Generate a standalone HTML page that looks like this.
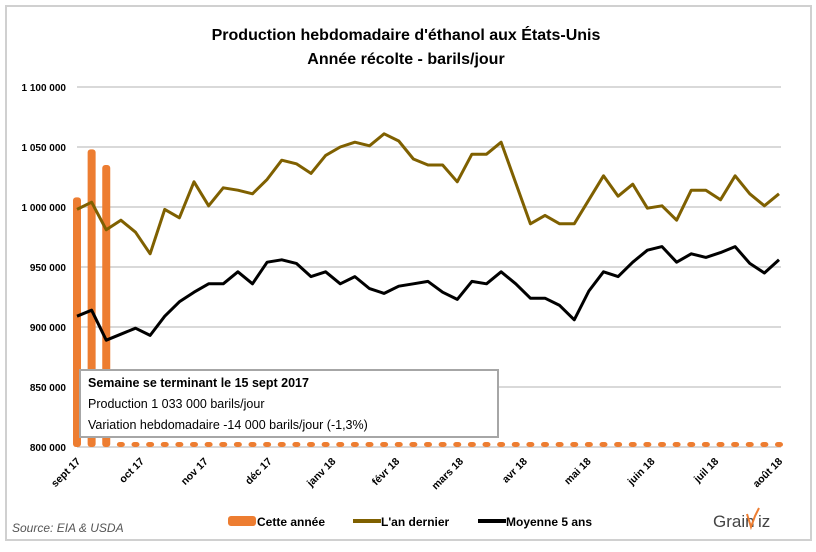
<!DOCTYPE html>
<html><head><meta charset="utf-8"><style>
body{margin:0;background:#fff;}
svg{display:block;font-family:"Liberation Sans",sans-serif;}
</style></head><body>
<svg id="c" width="816" height="552" viewBox="0 0 816 552">
<rect x="6" y="6" width="805" height="534" fill="#fff" stroke="#d0d0d0" stroke-width="2"/>
<text x="406" y="40" text-anchor="middle" font-size="16" font-weight="bold">Production hebdomadaire d'éthanol aux États-Unis</text>
<text x="406" y="64" text-anchor="middle" font-size="16" font-weight="bold">Année récolte - barils/jour</text>
<g id="grid"></g><g id="bars"></g><g id="lines"></g><g id="xlab"></g>
<g>
<rect x="80" y="370" width="418" height="67" fill="#fff" stroke="#a6a6a6" stroke-width="2"/>
<text x="88" y="387" font-size="12.5" font-weight="bold">Semaine se terminant le 15 sept 2017</text>
<text x="88" y="408" font-size="12.5">Production 1 033 000 barils/jour</text>
<text x="88" y="429" font-size="12.5">Variation hebdomadaire -14 000 barils/jour (-1,3%)</text>
</g>
<g>
<rect x="228" y="516" width="28" height="10" rx="3" fill="#ed7d31"/>
<text x="257" y="526" font-size="12" font-weight="bold">Cette année</text>
<rect x="353" y="519" width="28" height="4" fill="#7f6000"/>
<text x="381" y="526" font-size="12" font-weight="bold">L'an dernier</text>
<rect x="478" y="519" width="28" height="4" fill="#000"/>
<text x="506" y="526" font-size="12" font-weight="bold">Moyenne 5 ans</text>
</g>
<text x="12" y="532" font-size="12" font-style="italic" fill="#555">Source: EIA &amp; USDA</text>
<g>
<text x="713" y="527" font-size="17" fill="#444">Grain</text>
<text x="758" y="527" font-size="17" fill="#444">iz</text>
<path d="M747 514 L751 527 L755 516 L759 508" stroke="#ed7d31" stroke-width="2" fill="none"/>
</g>
</svg>
<script>
const yTicks=[800000,850000,900000,950000,1000000,1050000,1100000];
const yTickLabels=["800 000","850 000","900 000","950 000","1 000 000","1 050 000","1 100 000"];
const monthLabels=["sept 17","oct 17","nov 17","déc 17","janv 18","févr 18","mars 18","avr 18","mai 18","juin 18","juil 18","août 18"];
const thisYear=[1008,1048,1035];
const lastYear=[998,1004,981,989,979,961,998,991,1021,1001,1016,1014,1011,1023,1039,1036,1028,1043,1050,1054,1051,1061,1055,1040,1035,1035,1021,1044,1044,1054,1020,986,993,986,986,1006,1026,1009,1019,999,1001,989,1014,1014,1006,1026,1011,1001,1011];
const avg5=[909,914,889,894,899,893,909,921,929,936,936,946,936,954,956,953,942,946,936,942,932,928,934,936,938,929,923,938,936,946,936,924,924,918,906,930,946,942,954,964,967,954,961,958,962,967,953,945,956];
const NS="http://www.w3.org/2000/svg";
const N=lastYear.length;
const x=i=>77+i*(702/(N-1));
const y=v=>447-(v-800000)/300000*360;
function mk(t,a,p){const e=document.createElementNS(NS,t);for(const k in a)e.setAttribute(k,a[k]);p.appendChild(e);return e;}
const grid=document.getElementById('grid');
yTicks.forEach((t,i)=>{
 const l=mk('line',{x1:77,x2:781,y1:y(t),y2:y(t),stroke:'#d9d9d9','stroke-width':2},grid);
 
 
 const tx=mk('text',{x:66,y:y(t)+4,'text-anchor':'end','font-size':10,'font-weight':'bold'},grid);
 tx.textContent=yTickLabels[i];
 
 
});
const bars=document.getElementById('bars');
for(let i=0;i<N;i++){
 const v=i<thisYear.length?thisYear[i]*1000:800000;
 const top=Math.min(y(v),y(800000)-5);
 const r=mk('rect',{x:x(i)-4,y:top,width:8,height:y(800000)-top,rx:3,fill:'#ed7d31'},bars);
 
 
}
const lines=document.getElementById('lines');
function line(data,col,name){
 const p=mk('polyline',{points:data.map((v,i)=>x(i)+','+y(v*1000)).join(' '),fill:'none',stroke:col,'stroke-width':3,'stroke-linejoin':'round'},lines);
 
 
}
line(lastYear,'#7f6000','line-last-year');
line(avg5,'#000','line-5yr-average');
const xl=document.getElementById('xlab');
monthLabels.forEach((m,i)=>{
 const px=77+i*(702/11), py=458;
 const t=mk('text',{x:px+4,y:py+4,'text-anchor':'end','font-size':10.5,'font-weight':'bold',transform:`rotate(-45 ${px+4} ${py+4})`},xl);
 t.textContent=m;
 
 
});
</script>
</body></html>
